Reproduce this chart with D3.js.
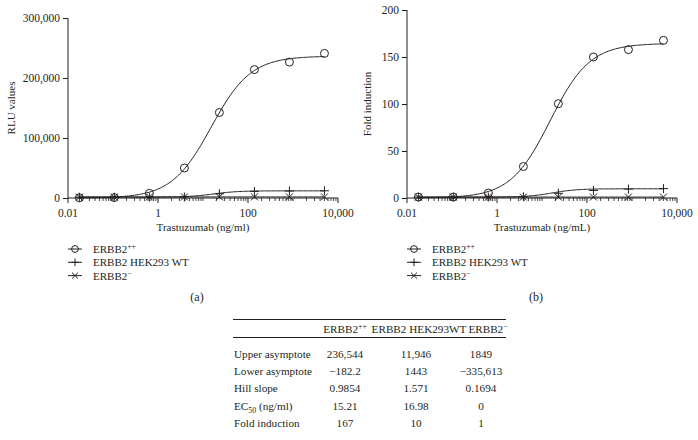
<!DOCTYPE html>
<html>
<head>
<meta charset="utf-8">
<script src="https://cdn.jsdelivr.net/npm/d3@7"></script>
<style>
  html, body { margin: 0; padding: 0; background: #fff; }
  svg { display: block; }
  text { font-family: "Liberation Serif", "DejaVu Serif", serif; fill: #231f20; }
</style>
</head>
<body>
<svg id="chart" width="698" height="440"></svg>
<script>
// ---------------- data ----------------
const concentrations = [0.0179, 0.107, 0.643, 3.86, 23.1, 139, 833, 5000];
const seriesNames = ["ERBB2++", "ERBB2 HEK293 WT", "ERBB2−"];

// panel (a) RLU values
const rluErbb2pp  = [300, 700, 7800, 50000, 142500, 214000, 226500, 241000];
const rluHek      = [1300, 1400, 1500, 1700, 7200, 11000, 11600, 12000];
const rluErbb2neg = [1500, 1600, 1700, 1800, 1800, 1900, 1800, 1800];

// panel (b) fold induction
const foldErbb2pp  = [1, 1, 5.3, 33.5, 100.3, 150, 157.8, 167.7];
const foldHek      = [1, 1, 1, 1.3, 5, 8, 9.5, 10];
const foldErbb2neg = [1, 1, 1, 1, 1, 1, 1, 1];

// 4-parameter logistic fits (panel a from table; panel b estimated)
const fitTopA    = [236544, 11946, 1849];
const fitBottomA = [-182.2, 1443, -335613];
const fitHillA   = [0.9854, 1.571, 0.1694];
const fitEc50A   = [15.21, 16.98, 0];
const fitTopB    = [164.5, 9.8, 1];
const fitBottomB = [0, 1, 1];
const fitHillB   = [0.9854, 1.571, 0.1694];
const fitEc50B   = [15.2, 17, 0];

// axes
const xTickValues = [0.01, 1, 100, 10000];
const xTickLabels = ["0.01", "1", "100", "10,000"];
const yTicksA = [0, 100000, 200000, 300000];
const yTicksB = [0, 50, 100, 150, 200];

// table
const tableHeaders = ["ERBB2++", "ERBB2 HEK293WT", "ERBB2−"];
const tableRowLabels = ["Upper asymptote", "Lower asymptote", "Hill slope", "EC50 (ng/ml)", "Fold induction"];
const tableErbb2pp  = ["236,544", "−182.2", "0.9854", "15.21", "167"];
const tableHek      = ["11,946", "1443", "1.571", "16.98", "10"];
const tableErbb2neg = ["1849", "−335,613", "0.1694", "0", "1"];

// ---------------- drawing ----------------
const svg = d3.select("#chart");
const INK = "#231f20";
const FS = 11;
const TICKFS = 11.5;
const TFS = 11.2;

function logistic(x, top, bottom, hill, ec50) {
  if (ec50 === 0) return top;
  return bottom + (top - bottom) / (1 + Math.pow(ec50 / x, hill));
}

function superText(sel, name, fs) {
  if (name === "ERBB2++" || name === "ERBB2−") {
    sel.append("tspan").text("ERBB2");
    sel.append("tspan").attr("dy", -4).attr("font-size", fs * 0.7).text(name.slice(5));
  } else {
    sel.text(name);
  }
}

function drawMarker(g, type, cx, cy, sz) {
  const k = sz || 1;
  if (type === 0) {
    g.append("circle").attr("cx", cx).attr("cy", cy).attr("r", 4 * k)
      .attr("fill", "none").attr("stroke", INK).attr("stroke-width", 1);
  } else if (type === 1) {
    const a = 4.5 * k;
    g.append("path").attr("d", `M${cx - a},${cy}H${cx + a}M${cx},${cy - a}V${cy + a}`)
      .attr("stroke", INK).attr("stroke-width", 1).attr("fill", "none");
  } else {
    const a = 3.5 * k;
    g.append("path").attr("d", `M${cx - a},${cy - a}L${cx + a},${cy + a}M${cx - a},${cy + a}L${cx + a},${cy - a}`)
      .attr("stroke", INK).attr("stroke-width", 1).attr("fill", "none");
  }
}

function panel(opts) {
  const g = svg.append("g");
  const x = d3.scaleLog().domain([0.01, 10000]).range([opts.x0, opts.x0 + 270]);
  const y = d3.scaleLinear().domain(opts.yDomain).range([198, opts.yTop]);

  const minor = [];
  for (let e = -2; e < 4; e++) for (let m = 1; m < 10; m++) {
    const v = m * Math.pow(10, e);
    if (!xTickValues.some(t => Math.abs(t - v) / v < 1e-9)) minor.push(v);
  }
  const xAxis = g.append("g").attr("transform", "translate(0,198)");
  xAxis.append("path").attr("d", `M${x.range()[0]},0H${x.range()[1]}`).attr("stroke", INK).attr("stroke-width", 1);
  xAxis.selectAll("line.minor").data(minor).join("line")
    .attr("x1", d => x(d)).attr("x2", d => x(d)).attr("y1", 0).attr("y2", 3)
    .attr("stroke", INK).attr("stroke-width", 0.8);
  xAxis.selectAll("line.major").data(xTickValues).join("line")
    .attr("x1", d => x(d)).attr("x2", d => x(d)).attr("y1", 0).attr("y2", 5)
    .attr("stroke", INK).attr("stroke-width", 1);
  xAxis.selectAll("text").data(xTickValues).join("text")
    .attr("x", d => x(d)).attr("y", 19).attr("text-anchor", "middle")
    .attr("font-size", TICKFS).text((d, i) => xTickLabels[i]);

  const yAxis = g.append("g").attr("transform", `translate(${opts.x0},0)`)
    .call(d3.axisLeft(y).tickValues(opts.yTicks).tickSize(5).tickPadding(3).tickFormat(opts.yFormat));
  yAxis.select(".domain").attr("stroke", INK).attr("d", `M0,${y.range()[1]}V198`);
  yAxis.selectAll(".tick line").attr("stroke", INK);
  yAxis.selectAll(".tick text").attr("font-size", TICKFS).attr("font-family", "Liberation Serif").attr("fill", INK);

  g.append("text").attr("transform", `translate(${opts.yLabelX},${opts.yLabelY}) rotate(-90)`)
    .attr("text-anchor", "middle").attr("font-size", FS).text(opts.yLabel);
  g.append("text").attr("x", opts.x0 + 135).attr("y", 231).attr("text-anchor", "middle")
    .attr("font-size", FS).text(opts.xLabel);

  const lo = Math.log10(concentrations[0]), hi = Math.log10(concentrations[concentrations.length - 1]);
  const cx = d3.range(0, 201).map(i => Math.pow(10, lo + (hi - lo) * i / 200));
  const line = d3.line().x(d => x(d[0])).y(d => y(d[1]));
  [2, 1, 0].forEach(s => {
    const pts = cx.map(c => [c, logistic(c, opts.fit.top[s], opts.fit.bottom[s], opts.fit.hill[s], opts.fit.ec50[s])]);
    g.append("path").attr("d", line(pts)).attr("fill", "none").attr("stroke", INK).attr("stroke-width", 1);
  });

  opts.series.forEach((vals, s) => {
    vals.forEach((v, i) => drawMarker(g, s, x(concentrations[i]), y(v)));
  });

  seriesNames.forEach((name, s) => {
    const ly = 249 + s * 13.3;
    const lx = opts.x0;
    g.append("path").attr("d", `M${lx},${ly}H${lx + 14}`).attr("stroke", INK).attr("stroke-width", 1);
    drawMarker(g, s, lx + 7, ly, 0.85);
    const t = g.append("text").attr("x", opts.legendTextX).attr("y", ly + 4).attr("font-size", FS);
    superText(t, name, FS);
  });

  g.append("text").attr("x", opts.x0 + 129).attr("y", 301).attr("text-anchor", "middle")
    .attr("font-size", 12).text(opts.tag);
}

panel({
  x0: 68, yTop: 18, yDomain: [0, 300000], yTicks: yTicksA,
  yFormat: d3.format(","), yLabel: "RLU values", yLabelX: 15, yLabelY: 108,
  xLabel: "Trastuzumab (ng/ml)", legendTextX: 93, tag: "(a)",
  fit: { top: fitTopA, bottom: fitBottomA, hill: fitHillA, ec50: fitEc50A },
  series: [rluErbb2pp, rluHek, rluErbb2neg]
});
panel({
  x0: 407, yTop: 10, yDomain: [0, 200], yTicks: yTicksB,
  yFormat: d3.format("d"), yLabel: "Fold induction", yLabelX: 371, yLabelY: 104,
  xLabel: "Trastuzumab (ng/mL)", legendTextX: 432, tag: "(b)",
  fit: { top: fitTopB, bottom: fitBottomB, hill: fitHillB, ec50: fitEc50B },
  series: [foldErbb2pp, foldHek, foldErbb2neg]
});

// ---------------- table ----------------
const tg = svg.append("g");
const tx0 = 233, tx1 = 506;
const colX = [345, 416, 481];
const headX = [345, 419, 488];
tg.append("line").attr("x1", tx0).attr("x2", tx1).attr("y1", 319.5).attr("y2", 319.5).attr("stroke", INK).attr("stroke-width", 1);
tg.append("line").attr("x1", tx0).attr("x2", tx1).attr("y1", 337.5).attr("y2", 337.5).attr("stroke", INK).attr("stroke-width", 1);
tableHeaders.forEach((h, i) => {
  const t = tg.append("text").attr("x", headX[i]).attr("y", 332.5).attr("text-anchor", "middle").attr("font-size", TFS);
  superText(t, h, TFS);
});
const cols = [tableErbb2pp, tableHek, tableErbb2neg];
tableRowLabels.forEach((lab, r) => {
  const ry = 357.5 + r * 17.4;
  const t = tg.append("text").attr("x", 234).attr("y", ry).attr("font-size", TFS);
  if (lab.startsWith("EC50")) {
    t.append("tspan").text("EC");
    t.append("tspan").attr("dy", 3).attr("font-size", TFS * 0.7).text("50");
    t.append("tspan").attr("dy", -3).text(" (ng/ml)");
  } else {
    t.text(lab);
  }
  cols.forEach((c, ci) => {
    tg.append("text").attr("x", colX[ci]).attr("y", ry).attr("text-anchor", "middle")
      .attr("font-size", TFS).text(c[r]);
  });
});
</script>
</body>
</html>
